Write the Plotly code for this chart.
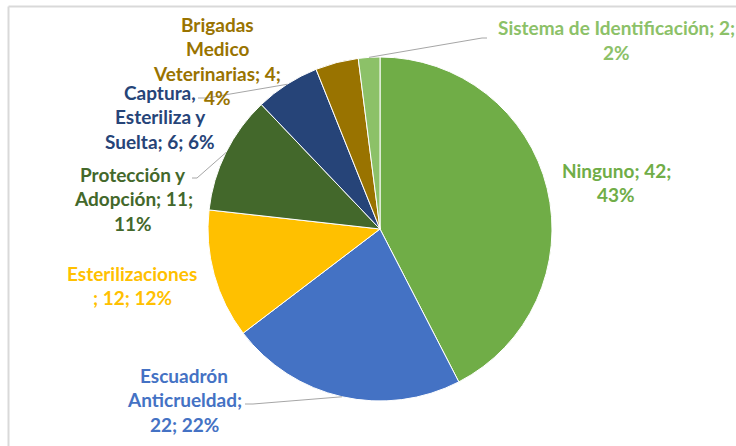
import math
import plotly.graph_objects as go

# ---- data ----
categories = ["Ninguno", "Escuadrón Anticrueldad", "Esterilizaciones",
              "Protección y Adopción", "Captura, Esteriliza y Suelta",
              "Brigadas Medico Veterinarias", "Sistema de Identificación"]
values = [42, 22, 12, 11, 6, 4, 2]
pct_labels = [43, 22, 12, 11, 6, 4, 2]
colors = ["#70AD47", "#4472C4", "#FFC000", "#43682B", "#264478", "#997300", "#8CC168"]

# ---- layout parameters (pixels in a 736x446 canvas) ----
W, H = 736, 446
CX, CY, R = 380, 229, 172
FONT = "Lato"
FS = 19
LINE_H = 24.5
# label: line breaks (char positions), center x, first line y
label_layout = [
    dict(breaks=[12], x=616, y=170),
    dict(breaks=[9, 23], x=184, y=375),
    dict(breaks=[16], x=132, y=273),
    dict(breaks=[12, 26], x=133, y=174),
    dict(breaks=[8, 21], x=160, y=92),
    dict(breaks=[8, 15, 32], x=217, y=24),
    dict(breaks=[29], x=616, y=28),
]
# leader lines: index -> list of label-side points (pixels)
leaders = {
    6: [(482, 38), (487, 38)],
    4: [(207, 98), (198, 98)],
    3: [(197, 178), (192, 178)],
    1: [(253, 404), (245, 404)],
}


def px(x):
    return x / W


def py(y):
    return 1 - y / H


fig = go.Figure()
fig.add_trace(go.Pie(
    labels=categories, values=values, sort=False, direction="clockwise",
    rotation=0, textinfo="none", hoverinfo="label+value+percent",
    marker=dict(colors=colors, line=dict(color="white", width=1)),
    domain=dict(x=[px(CX - R), px(CX + R)], y=[py(CY + R), py(CY - R)]),
    showlegend=False,
))

annotations = []
for i, (cat, v, p) in enumerate(zip(categories, values, pct_labels)):
    full = f"{cat}; {v}; {p}%"
    lay = label_layout[i]
    cuts = [0] + lay["breaks"] + [len(full)]
    lines = [full[a:b].strip() for a, b in zip(cuts[:-1], cuts[1:])]
    for k, ln in enumerate(lines):
        annotations.append(dict(
            x=px(lay["x"]), y=py(lay["y"] + k * LINE_H), xref="paper", yref="paper",
            text=f"<b>{ln}</b>", showarrow=False, xanchor="center", yanchor="middle",
            font=dict(family=FONT, size=FS, color=colors[i]),
        ))

shapes = []
# chart border (top and left edges visible)
shapes.append(dict(type="line", xref="paper", yref="paper", x0=px(8.5), x1=px(740),
                   y0=py(6.5), y1=py(6.5), line=dict(color="#D9D9D9", width=2)))
shapes.append(dict(type="line", xref="paper", yref="paper", x0=px(8.5), x1=px(8.5),
                   y0=py(6.5), y1=py(450), line=dict(color="#D9D9D9", width=2)))

total = sum(values)
cum = 0
for i, v in enumerate(values):
    mid = (cum + v / 2) / total * 2 * math.pi
    cum += v
    pts = leaders.get(i)
    if not pts:
        continue
    ex = CX + R * math.sin(mid)
    ey = CY - R * math.cos(mid)
    path_pts = [(ex, ey)] + pts
    path = "M " + " L ".join(f"{px(a)},{py(b)}" for a, b in path_pts)
    shapes.append(dict(type="path", xref="paper", yref="paper", path=path,
                       line=dict(color="#A6A6A6", width=1)))

fig.update_layout(
    width=W, height=H, margin=dict(l=0, r=0, t=0, b=0),
    paper_bgcolor="white", plot_bgcolor="white",
    annotations=annotations, shapes=shapes,
)
fig.write_html("out.html", config={"displayModeBar": False},
               post_script="document.body.style.margin='0px';")
